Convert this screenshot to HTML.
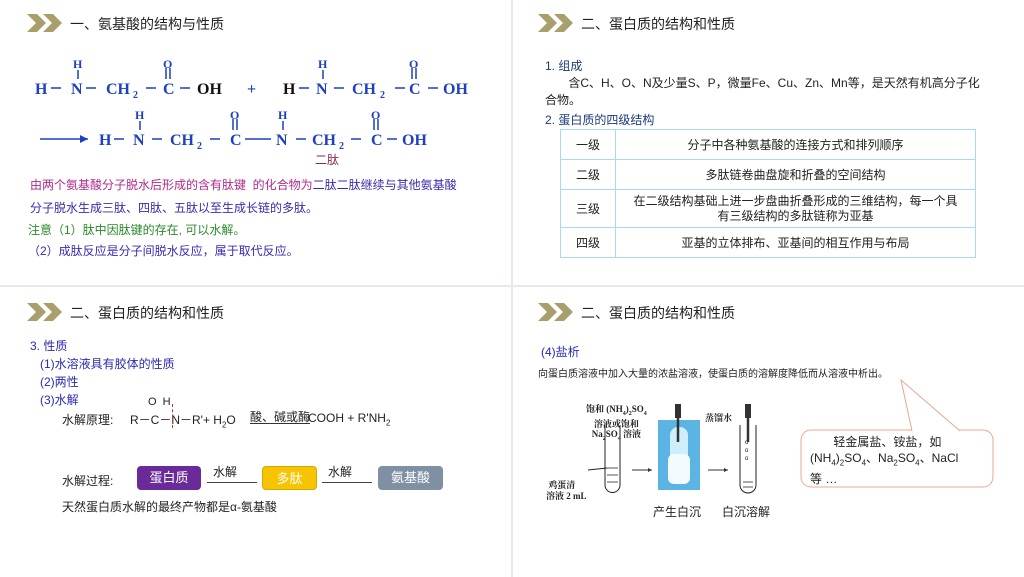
<!DOCTYPE html>
<html><head><meta charset="utf-8"><style>
*{margin:0;padding:0;box-sizing:border-box}
body{width:1024px;height:577px;background:#e6eaec;position:relative;overflow:hidden;font-family:"Liberation Sans","Noto Sans CJK SC",sans-serif;color:#222}
.p{position:absolute;background:#fff}
.a{position:absolute;white-space:nowrap}
.chev{position:absolute}
.t{font-size:14px;color:#222}
table{border-collapse:collapse}
td{border:1px solid #a8dcea;font-size:12px;text-align:center;color:#222}
.box{position:absolute;height:24px;border-radius:4px;color:#fff;font-size:13px;text-align:center;line-height:24px}
</style></head><body>
<div class="p" style="left:0;top:0;width:511px;height:285px"></div>
<div class="p" style="left:513px;top:0;width:511px;height:285px"></div>
<div class="p" style="left:0;top:287px;width:511px;height:290px"></div>
<div class="p" style="left:513px;top:287px;width:511px;height:290px"></div>

<svg class="chev" style="left:27px;top:14px" width="36" height="18"><path d="M0 0h10l9 9-9 9H0l9-9z M16 0h10l9 9-9 9h-10l9-9z" fill="#a99f6a"/></svg>
<svg class="chev" style="left:538px;top:14px" width="36" height="18"><path d="M0 0h10l9 9-9 9H0l9-9z M16 0h10l9 9-9 9h-10l9-9z" fill="#a99f6a"/></svg>
<svg class="chev" style="left:27px;top:303px" width="36" height="18"><path d="M0 0h10l9 9-9 9H0l9-9z M16 0h10l9 9-9 9h-10l9-9z" fill="#a99f6a"/></svg>
<svg class="chev" style="left:538px;top:303px" width="36" height="18"><path d="M0 0h10l9 9-9 9H0l9-9z M16 0h10l9 9-9 9h-10l9-9z" fill="#a99f6a"/></svg>
<div class="a t" style="left:70px;top:14px">一、氨基酸的结构与性质</div>
<div class="a t" style="left:581px;top:14px">二、蛋白质的结构和性质</div>
<div class="a t" style="left:70px;top:303px">二、蛋白质的结构和性质</div>
<div class="a t" style="left:581px;top:303px">二、蛋白质的结构和性质</div>

<svg class="a" style="left:0;top:50px" width="512" height="125" font-family="Liberation Serif, serif" font-weight="bold" font-size="16" fill="#1d3fc4">
<g stroke="#1d3fc4" stroke-width="1.5">
<!-- row1 formula1 -->
<path d="M51 38h10 M86 38h10 M146 38h10 M180 38h10"/>
<path d="M78 20v9 M166 18v11 M170 18v11"/>
<!-- formula2 -->
<path d="M299 38h10 M334 38h10 M395 38h10 M428 38h10"/>
<path d="M323 20v9 M412 18v11 M416 18v11"/>
<!-- row2 -->
<path d="M114 89h10 M152 89h10 M210 89h10 M245 89h26 M296 89h10 M351 89h10 M387 89h10"/>
<path d="M140 71v9 M233 69v11 M237 69v11 M283 71v9 M374 69v11 M378 69v11"/>
<path d="M40 89h48"/>
</g>
<path d="M88 89l-8-4v8z" fill="#1d3fc4"/>
<text x="35" y="44">H</text><text x="71" y="44">N</text><text x="106" y="44">CH</text><text x="133" y="48" font-size="10">2</text><text x="163" y="44">C</text><text x="197" y="44" fill="#111">OH</text>
<text x="73" y="18" font-size="12">H</text><text x="163" y="18" font-size="12">O</text>
<text x="247" y="44">+</text>
<text x="283" y="44" fill="#111">H</text><text x="316" y="44">N</text><text x="352" y="44">CH</text><text x="380" y="48" font-size="10">2</text><text x="409" y="44">C</text><text x="443" y="44">OH</text>
<text x="318" y="18" font-size="12">H</text><text x="409" y="18" font-size="12">O</text>
<text x="99" y="95">H</text><text x="133" y="95">N</text><text x="170" y="95">CH</text><text x="197" y="99" font-size="10">2</text><text x="230" y="95">C</text>
<text x="276" y="95">N</text><text x="312" y="95">CH</text><text x="339" y="99" font-size="10">2</text><text x="371" y="95">C</text><text x="402" y="95">OH</text>
<text x="135" y="69" font-size="12">H</text><text x="230" y="69" font-size="12">O</text><text x="278" y="69" font-size="12">H</text><text x="371" y="69" font-size="12">O</text>
</svg>
<div class="a" style="left:315px;top:151px;font-size:12px;color:#8b2a4a">二肽</div>

<div class="a" style="left:30px;top:176px;font-size:12px;color:#b02a8a">由两个氨基酸分子脱水后形成的含有肽键&nbsp; 的化合物为<span style="color:#3a2ab0">二肽二肽继续与其他氨基酸</span></div>
<div class="a" style="left:30px;top:199px;font-size:12px;color:#3a2ab0">分子脱水生成三肽、四肽、五肽以至生成长链的多肽。</div>
<div class="a" style="left:28px;top:221px;font-size:12px;color:#2a8a2a">注意（1）肽中因肽键的存在, 可以水解。</div>
<div class="a" style="left:28px;top:242px;font-size:12px;color:#3a2ab0">（2）成肽反应是分子间脱水反应，属于取代反应。</div>

<div class="a" style="left:545px;top:57px;font-size:12px;color:#1d3a7a">1. 组成</div>
<div class="a" style="left:545px;top:74px;font-size:12px">&nbsp;&nbsp;&nbsp;&nbsp;&nbsp;&nbsp;&nbsp;含C、H、O、N及少量S、P，微量Fe、Cu、Zn、Mn等，是天然有机高分子化</div>
<div class="a" style="left:545px;top:91px;font-size:12px">合物。</div>
<div class="a" style="left:545px;top:111px;font-size:12px;color:#1d3a7a">2. 蛋白质的四级结构</div>
<table style="position:absolute;left:560px;top:129px;width:416px">
<tr style="height:30px"><td style="width:55px">一级</td><td>分子中各种氨基酸的连接方式和排列顺序</td></tr>
<tr style="height:30px"><td>二级</td><td>多肽链卷曲盘旋和折叠的空间结构</td></tr>
<tr style="height:38px"><td>三级</td><td style="line-height:15px">在二级结构基础上进一步盘曲折叠形成的三维结构，每一个具<br>有三级结构的多肽链称为亚基</td></tr>
<tr style="height:30px"><td>四级</td><td>亚基的立体排布、亚基间的相互作用与布局</td></tr>
</table>

<div class="a" style="left:30px;top:337px;font-size:12px;color:#2a2ab0;line-height:18px">3. 性质<br>&nbsp;&nbsp;&nbsp;(1)水溶液具有胶体的性质<br>&nbsp;&nbsp;&nbsp;(2)两性<br>&nbsp;&nbsp;&nbsp;(3)水解</div>
<div class="a" style="left:62px;top:411px;font-size:12px">水解原理:</div>
<div class="a" style="left:130px;top:411px;font-size:12px">R－C－N－R'+ H<sub style="font-size:8px">2</sub>O</div>
<div class="a" style="left:148px;top:396px;font-size:11px">O&nbsp;&nbsp;H</div>
<div class="a" style="left:172px;top:404px;width:1px;height:24px;border-left:1px dashed #c33"></div>
<div class="a" style="left:250px;top:408px;font-size:12px">酸、碱或酶</div>
<div class="a" style="left:250px;top:423px;width:60px;border-top:1px solid #333"></div>
<div class="a" style="left:308px;top:411px;font-size:12px">COOH + R'NH<sub style="font-size:8px">2</sub></div>
<div class="a" style="left:62px;top:472px;font-size:12px">水解过程:</div>
<div class="box" style="left:137px;top:466px;width:64px;background:#6a2a9a">蛋白质</div>
<div class="a" style="left:213px;top:463px;font-size:12px">水解</div>
<div class="a" style="left:207px;top:482px;width:50px;border-top:1px solid #444"></div>
<div class="box" style="left:262px;top:466px;width:55px;background:#f6c400;border:1px solid #d9a800">多肽</div>
<div class="a" style="left:328px;top:463px;font-size:12px">水解</div>
<div class="a" style="left:322px;top:482px;width:50px;border-top:1px solid #444"></div>
<div class="box" style="left:378px;top:466px;width:65px;background:#8090a4">氨基酸</div>
<div class="a" style="left:62px;top:498px;font-size:12px">天然蛋白质水解的最终产物都是α-氨基酸</div>

<div class="a" style="left:541px;top:343px;font-size:12px;color:#2a2ab0">(4)盐析</div>
<div class="a" style="left:538px;top:365px;font-size:10px">向蛋白质溶液中加入大量的浓盐溶液，使蛋白质的溶解度降低而从溶液中析出。</div>
<svg class="a" style="left:530px;top:370px" width="480" height="150">
<rect x="271" y="60" width="192" height="57" rx="10" fill="#fff" stroke="#e8a890"/>
<path d="M382 61 L371 10 L430 61" fill="#fff" stroke="#e8a890"/>
<path d="M75 55 v60 a7.5 7.5 0 0 0 15 0 v-60" fill="none" stroke="#222"/>
<path d="M77 98 h11 M77 105 h11 M77 112 h11" stroke="#555"/>
<path d="M58 100 L77 98" stroke="#222"/>
<rect x="128" y="50" width="42" height="70" fill="#5cb4e4"/>
<rect x="140" y="57" width="18" height="57" rx="8" fill="#cdeefa"/>
<rect x="138" y="84" width="22" height="30" rx="6" fill="#f4fbff"/>
<path d="M148 38 v34" stroke="#333" stroke-width="2.5"/>
<path d="M145 34 h6 v14 h-6z" fill="#333"/>
<path d="M210 55 v60 a8 8 0 0 0 16 0 v-60" fill="none" stroke="#222"/>
<path d="M213 112 h10 M213 117 h10" stroke="#555"/>
<text x="215" y="74" font-size="6">o</text><text x="215" y="82" font-size="6">o</text><text x="215" y="90" font-size="6">o</text>
<path d="M218 38 v34" stroke="#333" stroke-width="2.5"/>
<path d="M215 34 h6 v14 h-6z" fill="#333"/>
<path d="M102 100 h20 M178 100 h20" stroke="#333"/>
<path d="M122 100 l-4 -2 v4z M198 100 l-4 -2 v4z" fill="#333"/>
</svg>
<div class="a" style="left:586px;top:404px;font-size:9px;font-family:'Liberation Serif','Noto Serif CJK SC',serif;font-weight:bold;line-height:10px;text-align:center">饱和 (NH<sub style="font-size:6px">4</sub>)<sub style="font-size:6px">2</sub>SO<sub style="font-size:6px">4</sub><br>溶液或饱和<br>Na<sub style="font-size:6px">2</sub>SO<sub style="font-size:6px">4</sub> 溶液</div>
<div class="a" style="left:705px;top:411px;font-size:9px;font-family:'Liberation Serif','Noto Serif CJK SC',serif;font-weight:bold">蒸馏水</div>
<div class="a" style="left:546px;top:480px;font-size:9px;font-family:'Liberation Serif','Noto Serif CJK SC',serif;font-weight:bold;line-height:11px">&nbsp;鸡蛋清<br>溶液 2 mL</div>
<div class="a" style="left:653px;top:503px;font-size:12px">产生白沉</div>
<div class="a" style="left:722px;top:503px;font-size:12px">白沉溶解</div>
<div class="a" style="left:810px;top:434px;font-size:12px;line-height:16px">&nbsp;&nbsp;&nbsp;&nbsp;&nbsp;&nbsp;&nbsp;轻金属盐、铵盐，如<br>(NH<sub style="font-size:8px">4</sub>)<sub style="font-size:8px">2</sub>SO<sub style="font-size:8px">4</sub>、Na<sub style="font-size:8px">2</sub>SO<sub style="font-size:8px">4</sub>、NaCl<br>等 …</div>
</body></html>
